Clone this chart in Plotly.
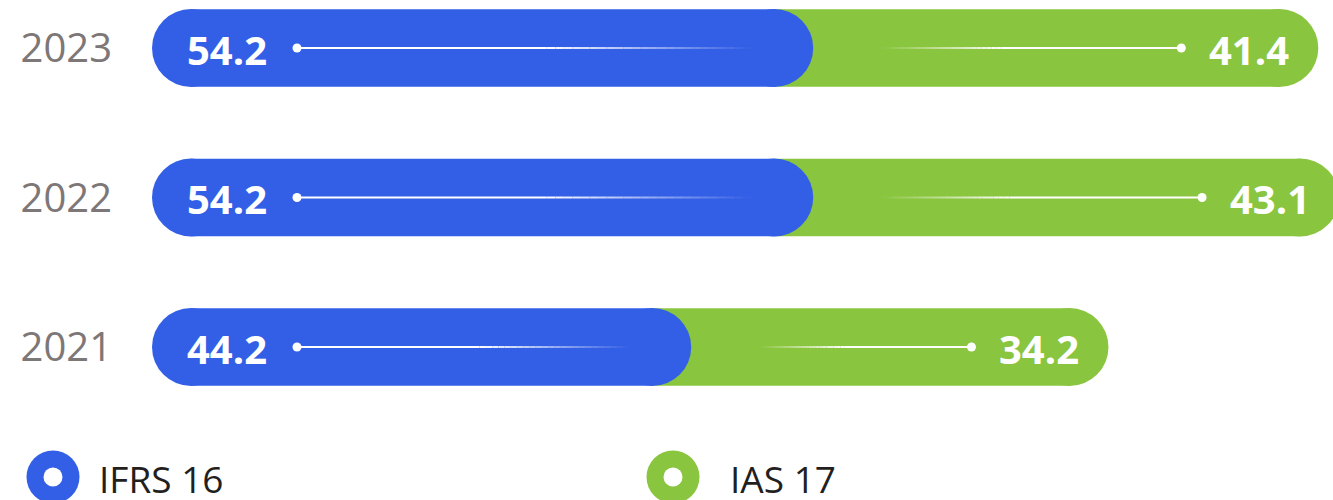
import plotly.graph_objects as go

years = ["2021", "2022", "2023"]
ifrs16 = [44.2, 54.2, 54.2]
ias17 = [34.2, 43.1, 41.4]
series_names = ["IFRS 16", "IAS 17"]

BLUE = "#335FE7"
GREEN = "#8AC540"
totals = [a + b for a, b in zip(ifrs16, ias17)]

PX_PER_UNIT = 12.2
PLOT_W = 1333 - 152
XMAX = PLOT_W / PX_PER_UNIT
BAR_PX = 78
R = (BAR_PX / 2) / PX_PER_UNIT  # end-cap radius in data units
u = 1 / PX_PER_UNIT  # one pixel in data units

fig = go.Figure()
fig.add_trace(go.Bar(y=years, x=[t - R - (b - R) for b, t in zip(ifrs16, totals)],
                     base=[b - R for b in ifrs16], orientation="h", marker_color=GREEN,
                     marker_line_width=0, width=0.52, showlegend=False, hoverinfo="skip",
                     name=series_names[1]))
fig.add_trace(go.Bar(y=years, x=[b - 2 * R for b in ifrs16], base=[R] * len(ifrs16),
                     orientation="h", marker_color=BLUE, marker_line_width=0,
                     width=0.52, showlegend=False, hoverinfo="skip", name=series_names[0]))
fig.add_trace(go.Scatter(x=[t - R for t in totals], y=years, mode="markers",
                         marker=dict(color=GREEN, size=BAR_PX, line=dict(width=0)),
                         showlegend=False, hoverinfo="skip"))
fig.add_trace(go.Scatter(x=[R] * len(ifrs16) + [b - R for b in ifrs16], y=years + years,
                         mode="markers", marker=dict(color=BLUE, size=BAR_PX, line=dict(width=0)),
                         showlegend=False, hoverinfo="skip"))

shapes = []
annotations = []
dot_x = []
dot_y = []
for idx, (yr, b, t) in enumerate(zip(years, ifrs16, totals)):
    x_start = 145 * u
    x_end = b - 62 * u
    fade_start = x_start + (x_end - x_start) * 0.55
    n = 24
    shapes.append(dict(type="line", xref="x", yref="y", x0=x_start, x1=fade_start, y0=idx, y1=idx,
                       line=dict(color="white", width=2)))
    for i in range(n):
        xa = fade_start + (x_end - fade_start) * i / n
        xb = fade_start + (x_end - fade_start) * (i + 1) / n
        shapes.append(dict(type="line", xref="x", yref="y", x0=xa, x1=xb, y0=idx, y1=idx,
                           opacity=1 - (i + 0.5) / n, line=dict(color="white", width=2)))
    g_start = b + 68 * u
    g_end = t - 137 * u
    g_fade_end = g_start + (g_end - g_start) * 0.4
    for i in range(n):
        xa = g_start + (g_fade_end - g_start) * i / n
        xb = g_start + (g_fade_end - g_start) * (i + 1) / n
        shapes.append(dict(type="line", xref="x", yref="y", x0=xa, x1=xb, y0=idx, y1=idx,
                           opacity=(i + 0.5) / n, line=dict(color="white", width=2)))
    shapes.append(dict(type="line", xref="x", yref="y", x0=g_fade_end, x1=g_end, y0=idx, y1=idx,
                       line=dict(color="white", width=2)))
    dot_x += [x_start, g_end]
    dot_y += [yr, yr]
    annotations.append(dict(x=0, y=idx, xref="x", yref="y", text=f"{b:.1f}", showarrow=False,
                            xanchor="left", xshift=33, yshift=-1,
                            font=dict(family="Open Sans", size=40, color="white", weight=700)))
    x_ann = min(t, XMAX)
    annotations.append(dict(x=x_ann, y=idx, xref="x", yref="y", text=f"{t - b:.1f}",
                            showarrow=False, xanchor="right",
                            xshift=-27 + (t - x_ann) * PX_PER_UNIT, yshift=-1,
                            font=dict(family="Open Sans", size=40, color="white", weight=700)))

fig.add_trace(go.Scatter(x=dot_x, y=dot_y, mode="markers", marker=dict(color="white", size=9),
                         showlegend=False, hoverinfo="skip"))

def px_to_paper_x(px):
    return (px - 152) / PLOT_W

legend_items = [(series_names[0], BLUE, 53, 97), (series_names[1], GREEN, 673, 728)]
for name, col, cx, tx in legend_items:
    for r, c in [(26.5, col), (9.5, "white")]:
        shapes.append(dict(type="circle", xref="paper", yref="paper",
                           xsizemode="pixel", ysizemode="pixel",
                           xanchor=px_to_paper_x(cx), yanchor=1 - 477 / 500,
                           x0=-r, x1=r, y0=-r, y1=r, fillcolor=c, line=dict(width=0)))
    annotations.append(dict(x=px_to_paper_x(tx), y=1 - 478 / 500, xref="paper", yref="paper",
                            text=name, showarrow=False, xanchor="left", yanchor="middle",
                            height=42, valign="middle",
                            font=dict(family="Open Sans", size=37, color="#231F20")))

fig.update_layout(
    width=1333, height=500,
    margin=dict(l=152, r=0, t=0, b=0),
    paper_bgcolor="white", plot_bgcolor="white",
    barmode="overlay",
    shapes=shapes, annotations=annotations,
    xaxis=dict(range=[0, XMAX], visible=False, fixedrange=True, automargin=False),
    yaxis=dict(type="category", categoryorder="array", categoryarray=years,
               range=[2 + 48 / 149.5 - 500 / 149.5, 2 + 48 / 149.5],
               showgrid=False, zeroline=False, showline=False, ticks="",
               ticklabelstandoff=39, automargin=False, fixedrange=True,
               tickfont=dict(family="Open Sans", size=40, color="#7E7777")),
    font=dict(family="Open Sans"),
)

fig.write_html("out.html", config={"displayModeBar": False},
               post_script="document.body.style.margin='0';document.body.style.overflow='hidden';")
